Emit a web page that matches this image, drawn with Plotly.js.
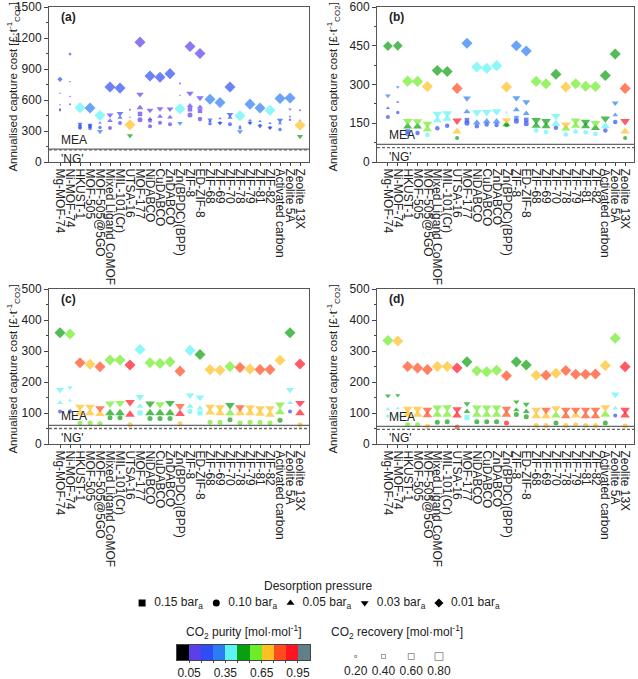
<!DOCTYPE html>
<html><head><meta charset="utf-8">
<script src="https://cdn.plot.ly/plotly-3.0.1.min.js"></script>
<style>html,body{margin:0;padding:0;background:#fff}#chart{width:638px;height:679px}</style>
</head><body><div id="chart"></div>
<script>
const materials = ['Mg-MOF-74','Ni-MOF-74','HKUST-1','MOF-505','MOF-505@5GO','Mixed Ligand CoMOF','MIL-101(Cr)','UTSA-16','MOF-177','NiDABCO','CuDABCO','ZnDABCO','Zn(BPDC)(BPP)','ZIF-8','ED-ZIF-8','ZIF-68','ZIF-69','ZIF-70','ZIF-78','ZIF-79','ZIF-81','ZIF-82','Activated carbon','Zeolite 5A','Zeolite 13X'];
const pressureLabels = ['0.15','0.10','0.05','0.03','0.01'];
const mea = [125, 68, 60, 57];
const ng = [118, 56, 50, 47];
const purityTickVals = [0.5, 3.5, 6.5, 9.5];
const purityTickText = ['0.05','0.35','0.65','0.95'];
const purityBins = [0,1,2,3,4,5,6,7,8,9,10];
const recoveryLegend = [0.20, 0.40, 0.60, 0.80];
const n = null;

// ---- panel (a)
const a_cost_015 = [500,n,340,345,n,n,n,n,465,400,n,n,n,510,495,n,n,n,n,n,n,n,n,n,n];
const a_pur_015  = [0.1,0.1,0.2,0.2,0.2,0.1,0.1,0.1,0.1,0.1,0.1,0.1,0.1,0.1,0.1,0.2,0.2,0.2,0.2,0.2,0.2,0.2,0.2,0.1,0.1];
const a_rec_015  = [0.2,0.2,0.35,0.35,0.3,0.3,0.3,0.2,0.45,0.35,0.3,0.3,0.2,0.45,0.45,0.3,0.3,0.3,0.3,0.3,0.3,0.3,0.3,0.2,0.2];
const a_cost_010 = [510,560,330,325,335,330,378,505,410,345,380,365,760,455,415,370,380,365,330,380,355,335,315,410,500];
const a_pur_010  = [0.1,0.1,0.2,0.2,0.2,0.1,0.1,0.1,0.1,0.1,0.1,0.1,0.1,0.1,0.1,0.2,0.2,0.2,0.2,0.2,0.2,0.2,0.2,0.1,0.1];
const a_rec_010  = [0.2,0.2,0.35,0.35,0.35,0.4,0.4,0.2,0.5,0.4,0.4,0.4,0.2,0.5,0.45,0.35,0.3,0.4,0.3,0.3,0.3,0.3,0.35,0.25,0.2];
const a_cost_005 = [555,635,360,350,380,400,430,432,525,415,440,432,645,545,530,395,420,430,345,405,395,375,375,440,405];
const a_pur_005  = [0.1,0.1,0.2,0.2,0.2,0.1,0.2,0.1,0.1,0.1,0.1,0.1,0.1,0.1,0.1,0.2,0.2,0.2,0.2,0.2,0.2,0.2,0.2,0.1,0.1];
const a_rec_005  = [0.2,0.2,0.35,0.35,0.3,0.5,0.45,0.2,0.6,0.45,0.5,0.5,0.2,0.55,0.55,0.35,0.3,0.45,0.25,0.3,0.3,0.3,0.35,0.25,0.2];
const a_cost_003 = [665,780,370,360,296,455,470,255,655,500,515,512,375,665,620,410,375,460,295,378,345,330,405,510,247];
const a_pur_003  = [0.1,0.1,0.2,0.2,0.3,0.1,0.2,0.5,0.1,0.1,0.1,0.1,0.3,0.1,0.1,0.2,0.2,0.2,0.3,0.2,0.2,0.2,0.2,0.1,0.5];
const a_rec_003  = [0.2,0.2,0.45,0.45,0.55,0.6,0.6,0.55,0.65,0.6,0.6,0.6,0.5,0.65,0.65,0.45,0.45,0.6,0.55,0.45,0.45,0.45,0.55,0.3,0.55];
const a_cost_001 = [800,1045,525,523,450,725,715,360,1160,833,820,855,515,1118,1050,607,575,725,448,560,522,500,615,620,355];
const a_pur_001  = [0.2,0.2,0.4,0.3,0.4,0.2,0.2,0.7,0.1,0.2,0.2,0.2,0.4,0.1,0.1,0.3,0.3,0.2,0.4,0.3,0.3,0.4,0.3,0.3,0.7];
const a_rec_001  = [0.4,0.25,0.85,0.85,0.85,0.85,0.85,0.85,0.85,0.85,0.85,0.85,0.85,0.85,0.85,0.85,0.85,0.85,0.85,0.85,0.85,0.85,0.85,0.85,0.85];

// ---- panel (b)
const b_cost_015 = [n,n,118,n,n,n,n,n,162,n,n,n,192,170,163,n,n,n,n,n,n,n,n,n,n];
const b_pur_015  = [0.2,0.2,0.2,0.2,0.2,0.2,0.2,0.2,0.2,0.2,0.2,0.2,0.4,0.3,0.2,0.2,0.2,0.2,0.2,0.2,0.2,0.2,0.2,0.2,0.2];
const b_rec_015  = [0.45,0.45,0.45,0.45,0.45,0.45,0.45,0.45,0.45,0.45,0.45,0.45,0.2,0.45,0.45,0.45,0.45,0.45,0.45,0.45,0.45,0.45,0.45,0.45,0.45];
const b_cost_010 = [174,192,108,112,105,131,140,93,150,138,145,143,143,158,148,122,116,133,106,118,115,108,122,155,93];
const b_pur_010  = [0.2,0.2,0.3,0.2,0.4,0.2,0.2,0.5,0.2,0.2,0.2,0.2,0.5,0.2,0.2,0.4,0.4,0.2,0.4,0.4,0.4,0.4,0.2,0.2,0.5];
const b_rec_010  = [0.4,0.35,0.45,0.45,0.45,0.45,0.45,0.4,0.5,0.45,0.45,0.45,0.45,0.5,0.5,0.45,0.45,0.45,0.45,0.45,0.45,0.45,0.45,0.45,0.4];
const b_cost_005 = [209,232,137,137,127,162,167,118,195,152,157,157,145,202,188,140,138,148,130,140,138,132,138,182,118];
const b_pur_005  = [0.2,0.2,0.5,0.5,0.6,0.4,0.4,0.7,0.3,0.3,0.3,0.3,0.5,0.3,0.3,0.5,0.5,0.4,0.6,0.6,0.5,0.5,0.4,0.3,0.7];
const b_rec_005  = [0.35,0.3,0.8,0.8,0.8,0.8,0.8,0.8,0.6,0.7,0.7,0.7,0.7,0.6,0.6,0.8,0.8,0.8,0.8,0.8,0.8,0.8,0.8,0.5,0.8];
const b_cost_003 = [256,290,158,157,148,186,188,160,247,192,193,196,162,248,232,162,158,178,145,160,155,150,168,228,158];
const b_pur_003  = [0.3,0.3,0.6,0.6,0.6,0.4,0.4,0.9,0.3,0.4,0.4,0.4,0.7,0.3,0.3,0.5,0.5,0.4,0.7,0.6,0.5,0.6,0.5,0.3,0.9];
const b_rec_003  = [0.5,0.35,0.85,0.85,0.85,0.85,0.85,0.85,0.7,0.85,0.85,0.85,0.8,0.7,0.7,0.85,0.85,0.85,0.85,0.85,0.85,0.85,0.85,0.6,0.85];
const b_cost_001 = [449,450,313,312,292,354,350,285,460,368,363,373,290,450,430,312,303,340,290,303,293,292,335,418,285];
const b_pur_001  = [0.5,0.5,0.6,0.6,0.7,0.5,0.5,0.8,0.3,0.4,0.4,0.4,0.7,0.3,0.3,0.6,0.6,0.5,0.7,0.6,0.6,0.6,0.5,0.5,0.8];
const b_rec_001  = [0.75,0.75,0.85,0.85,0.85,0.85,0.85,0.85,0.85,0.85,0.85,0.85,0.85,0.85,0.85,0.85,0.85,0.85,0.85,0.85,0.85,0.85,0.85,0.85,0.85];

// ---- panel (c)
const c_cost_015 = [n,n,n,n,n,n,n,n,100,n,n,n,n,n,100,n,n,n,n,n,n,n,n,n,n];
const c_pur_015  = [0.4,0.4,0.4,0.4,0.4,0.4,0.4,0.4,0.4,0.4,0.4,0.4,0.4,0.4,0.4,0.4,0.4,0.4,0.4,0.4,0.4,0.4,0.4,0.4,0.4];
const c_rec_015  = [0.5,0.5,0.5,0.5,0.5,0.5,0.5,0.5,0.5,0.5,0.5,0.5,0.5,0.5,0.5,0.5,0.5,0.5,0.5,0.5,0.5,0.5,0.5,0.5,0.5];
const c_cost_010 = [105,106,68,68,65,85,85,62,n,82,82,82,65,105,n,70,70,78,68,70,70,68,77,105,62];
const c_pur_010  = [0.2,0.2,0.6,0.6,0.6,0.5,0.5,0.7,0.4,0.5,0.5,0.5,0.7,0.4,0.4,0.6,0.6,0.5,0.6,0.6,0.6,0.6,0.5,0.2,0.7];
const c_rec_010  = [0.4,0.4,0.5,0.5,0.5,0.5,0.5,0.5,0.5,0.5,0.5,0.5,0.5,0.5,0.5,0.5,0.5,0.5,0.5,0.5,0.5,0.5,0.5,0.4,0.5];
const c_cost_005 = [133,140,100,100,97,100,100,95,122,100,100,100,97,122,115,102,100,100,100,100,98,95,103,133,100];
const c_pur_005  = [0.4,0.4,0.7,0.7,0.7,0.5,0.5,0.9,0.4,0.5,0.5,0.5,0.9,0.4,0.4,0.7,0.7,0.6,0.7,0.7,0.7,0.7,0.6,0.4,0.9];
const c_rec_005  = [0.5,0.35,0.85,0.85,0.85,0.85,0.85,0.85,0.6,0.85,0.85,0.85,0.85,0.6,0.6,0.85,0.85,0.85,0.85,0.85,0.85,0.85,0.85,0.5,0.85];
const c_cost_003 = [175,182,120,120,115,130,132,135,152,130,128,132,122,157,150,120,118,125,118,117,115,115,127,175,132];
const c_pur_003  = [0.4,0.4,0.7,0.7,0.8,0.6,0.6,0.9,0.4,0.5,0.6,0.5,0.8,0.4,0.4,0.7,0.7,0.5,0.8,0.7,0.7,0.7,0.6,0.4,0.9];
const c_rec_003  = [0.7,0.5,0.85,0.85,0.85,0.85,0.85,0.85,0.75,0.85,0.85,0.85,0.85,0.75,0.75,0.85,0.85,0.85,0.85,0.85,0.85,0.85,0.85,0.7,0.85];
const c_cost_001 = [359,355,262,257,249,271,271,255,305,262,260,265,235,302,289,240,238,250,247,242,240,240,270,359,258];
const c_pur_001  = [0.5,0.6,0.8,0.7,0.8,0.6,0.6,0.9,0.4,0.6,0.6,0.6,0.8,0.4,0.5,0.7,0.7,0.6,0.8,0.7,0.8,0.8,0.7,0.5,0.9];
const c_rec_001  = [0.85,0.85,0.85,0.85,0.85,0.85,0.85,0.85,0.85,0.85,0.85,0.85,0.85,0.85,0.85,0.85,0.85,0.85,0.85,0.85,0.85,0.85,0.85,0.85,0.85];

// ---- panel (d)
const d_cost_015 = [n,n,n,n,n,n,n,n,85,n,n,n,n,n,n,n,n,n,n,n,n,n,n,n,n];
const d_pur_015  = [0.4,0.4,0.4,0.4,0.4,0.4,0.4,0.4,0.4,0.4,0.4,0.4,0.4,0.4,0.4,0.4,0.4,0.4,0.4,0.4,0.4,0.4,0.4,0.4,0.4];
const d_rec_015  = [0.5,0.5,0.5,0.5,0.5,0.5,0.5,0.5,0.5,0.5,0.5,0.5,0.5,0.5,0.5,0.5,0.5,0.5,0.5,0.5,0.5,0.5,0.5,0.5,0.5];
const d_cost_010 = [90,90,62,62,57,70,72,55,n,72,72,72,68,95,88,60,60,68,60,62,60,60,68,92,58];
const d_pur_010  = [0.4,0.4,0.6,0.6,0.7,0.5,0.5,0.8,0.4,0.5,0.5,0.5,0.9,0.5,0.5,0.7,0.7,0.5,0.7,0.7,0.7,0.7,0.5,0.2,0.7];
const d_rec_010  = [0.35,0.35,0.5,0.5,0.5,0.5,0.5,0.5,0.5,0.5,0.5,0.5,0.5,0.5,0.5,0.5,0.5,0.5,0.5,0.5,0.5,0.5,0.5,0.4,0.5];
const d_cost_005 = [112,115,95,95,93,95,95,92,105,95,95,95,95,110,105,90,90,92,90,92,90,90,95,115,92];
const d_pur_005  = [0.4,0.4,0.7,0.7,0.8,0.6,0.6,0.9,0.5,0.6,0.6,0.6,0.8,0.5,0.5,0.7,0.7,0.6,0.8,0.7,0.8,0.8,0.6,0.4,0.9];
const d_rec_005  = [0.4,0.35,0.85,0.85,0.85,0.85,0.85,0.85,0.6,0.85,0.85,0.85,0.85,0.55,0.6,0.85,0.85,0.85,0.85,0.85,0.85,0.85,0.85,0.5,0.85];
const d_cost_003 = [156,157,113,113,110,117,118,112,130,117,117,117,113,136,128,110,110,115,110,110,110,110,118,160,110];
const d_pur_003  = [0.5,0.5,0.7,0.7,0.8,0.6,0.6,0.9,0.5,0.6,0.6,0.6,0.8,0.5,0.5,0.7,0.8,0.7,0.8,0.8,0.8,0.8,0.7,0.4,0.9];
const d_rec_003  = [0.5,0.45,0.85,0.85,0.85,0.85,0.85,0.85,0.6,0.85,0.85,0.85,0.85,0.55,0.6,0.85,0.85,0.85,0.85,0.85,0.85,0.85,0.85,0.75,0.85];
const d_cost_001 = [334,332,250,245,240,250,250,245,265,236,233,238,220,265,255,222,222,228,237,225,225,226,253,341,249];
const d_pur_001  = [0.6,0.7,0.8,0.8,0.8,0.7,0.7,0.9,0.5,0.6,0.6,0.6,0.8,0.5,0.5,0.7,0.8,0.7,0.8,0.8,0.8,0.8,0.7,0.6,0.9];
const d_rec_001  = [0.85,0.85,0.85,0.85,0.85,0.85,0.85,0.85,0.85,0.85,0.85,0.85,0.85,0.85,0.85,0.85,0.85,0.85,0.85,0.85,0.85,0.85,0.85,0.85,0.85];

// ---------- styling / build ----------
const binColors = ['#000000','#5b40ea','#2f4df5','#2c7cf4','#5ef4f4','#0a9f10','#6ded27','#ffbf22','#ff4b1e','#ff1423','#607f89'];
function purityColor(p){
  if (p == null) return '#000';
  if (p < 0.05) return binColors[0];
  if (p >= 0.95) return binColors[10];
  return binColors[Math.min(9, Math.floor((p - 0.05) / 0.1 + 1e-9) + 1)];
}
const SIZE = 10;
const symbols = ['square','circle','triangle-up','triangle-down','diamond'];
const panels = [
  {lab:'(a)', xa:'x',  ya:'y',  tx:13,  cost:[a_cost_015,a_cost_010,a_cost_005,a_cost_003,a_cost_001], pur:[a_pur_015,a_pur_010,a_pur_005,a_pur_003,a_pur_001], rec:[a_rec_015,a_rec_010,a_rec_005,a_rec_003,a_rec_001]},
  {lab:'(b)', xa:'x2', ya:'y2', tx:333, cost:[b_cost_015,b_cost_010,b_cost_005,b_cost_003,b_cost_001], pur:[b_pur_015,b_pur_010,b_pur_005,b_pur_003,b_pur_001], rec:[b_rec_015,b_rec_010,b_rec_005,b_rec_003,b_rec_001]},
  {lab:'(c)', xa:'x3', ya:'y3', tx:13,  cost:[c_cost_015,c_cost_010,c_cost_005,c_cost_003,c_cost_001], pur:[c_pur_015,c_pur_010,c_pur_005,c_pur_003,c_pur_001], rec:[c_rec_015,c_rec_010,c_rec_005,c_rec_003,c_rec_001]},
  {lab:'(d)', xa:'x4', ya:'y4', tx:333, cost:[d_cost_015,d_cost_010,d_cost_005,d_cost_003,d_cost_001], pur:[d_pur_015,d_pur_010,d_pur_005,d_pur_003,d_pur_001], rec:[d_rec_015,d_rec_010,d_rec_005,d_rec_003,d_rec_001]}
];

const traces = [];
panels.forEach(p => {
  for (let j = 0; j < 5; j++) {
    traces.push({
      type:'scatter', mode:'markers', x: materials, y: p.cost[j],
      xaxis: p.xa, yaxis: p.ya, showlegend:false, hoverinfo:'skip',
      marker:{symbol: symbols[j], color: p.pur[j].map(purityColor), size: p.rec[j].map(r => r * SIZE), line:{width:0}}
    });
  }
});
// desorption pressure key
const NB = '\u00a0';
traces.push({type:'scatter', mode:'markers+text', x: pressureLabels, y: pressureLabels.map(() => 0), xaxis:'x7', yaxis:'y7',
  text: pressureLabels.map(s => NB + NB + s + ' bar<sub>a</sub>'), textposition:'middle right', cliponaxis:false,
  textfont:{size:12, color:'#222'}, showlegend:false, hoverinfo:'skip',
  marker:{symbol: symbols, color:'#000', size:7}});
// purity colour bar
const cs = [];
binColors.forEach((c, k) => { cs.push([k/11, c]); cs.push([(k+1)/11, c]); });
traces.push({type:'heatmap', z:[purityBins], x: purityBins, y:[0], xaxis:'x5', yaxis:'y5',
  colorscale: cs, zmin:-0.5, zmax:10.5, showscale:false, hoverinfo:'skip'});
// recovery size key
traces.push({type:'scatter', mode:'markers', x: recoveryLegend, y: recoveryLegend.map(() => 0), xaxis:'x6', yaxis:'y6',
  showlegend:false, hoverinfo:'skip', cliponaxis:false,
  marker:{symbol:'square-open', color:'#707070', size: recoveryLegend.map(r => r * SIZE), line:{width:1}}});

const W = 638, H = 679;
const dx = (a, b) => [a / W, b / W];
const dy = (top, bot) => [1 - bot / H, 1 - top / H];
const font = {family:'"Liberation Sans", Arial, sans-serif', size:12, color:'#222'};
const yTitle = 'Annualised capture cost [£·t<sup>-1</sup><sub>CO2</sub>]';
function xAx(dom, anchor) {
  return {domain: dom, anchor: anchor, type:'category', categoryorder:'array', categoryarray: materials,
    tickmode:'array', tickvals: materials, ticktext: materials,
    range:[-1.1, 24.9], tickangle:90, ticks:'outside', ticklen:3, tickcolor:'#444',
    showline:true, mirror:true, linecolor:'#555', linewidth:1, showgrid:false, automargin:false,
    tickfont:{size:12, color:'#222'}, fixedrange:true};
}
function yAx(dom, anchor, max, dt) {
  return {domain: dom, anchor: anchor, range:[0, max], dtick: dt, ticks:'outside', ticklen:4, tickcolor:'#444',
    minor:{dtick: dt/2, ticks:'outside', ticklen:2, tickcolor:'#444'},
    showline:true, mirror:true, linecolor:'#555', linewidth:1, showgrid:false, zeroline:false, automargin:false,
    tickfont:{size:12, color:'#222'}};
}
const xL = dx(49, 309), xR = dx(377, 634);
const yT = dy(7, 162), yB = dy(289, 444);

const shapes = [], annotations = [];
panels.forEach((p, k) => {
  shapes.push({type:'line', xref: p.xa + ' domain', yref: p.ya, x0:0, x1:1, y0: mea[k], y1: mea[k], line:{color:'#666', width:1.3}});
  shapes.push({type:'line', xref: p.xa + ' domain', yref: p.ya, x0:0, x1:1, y0: ng[k], y1: ng[k], line:{color:'#666', width:1.3, dash:'3px,2px'}});
  annotations.push({xref: p.xa + ' domain', yref: p.ya, x:0.04, y: mea[k], xanchor:'left', yanchor:'bottom', text:'MEA', showarrow:false, font:{size:12, color:'#222'}, yshift:0});
  annotations.push({xref: p.xa + ' domain', yref: p.ya, x:0.04, y: ng[k], xanchor:'left', yanchor:'top', text:"'NG'", showarrow:false, font:{size:12, color:'#222'}, yshift:0});
  annotations.push({xref: p.xa + ' domain', yref: p.ya + ' domain', x:0.04, y:0.935, xanchor:'left', yanchor:'middle', text:'<b>' + p.lab + '</b>', showarrow:false, font:{size:12, color:'#222'}});
  annotations.push({xref:'paper', yref: p.ya + ' domain', x: p.tx / W, y:0.48, xanchor:'center', yanchor:'middle', textangle:-90, text: yTitle, showarrow:false, font:{size:11.5, color:'#222'}});
});
annotations.push({xref:'paper', yref:'paper', x:318/W, y:1-586/H, xanchor:'center', yanchor:'middle', text:'Desorption pressure', showarrow:false, font:{size:12, color:'#222'}});
annotations.push({xref:'paper', yref:'paper', x:243/W, y:1-632/H, xanchor:'center', yanchor:'middle', text:'CO<sub>2</sub> purity [mol·mol<sup>-1</sup>]', showarrow:false, font:{size:12, color:'#222'}});
annotations.push({xref:'paper', yref:'paper', x:397/W, y:1-632/H, xanchor:'center', yanchor:'middle', text:'CO<sub>2</sub> recovery [mol·mol<sup>-1</sup>]', showarrow:false, font:{size:12, color:'#222'}});

const layout = {
  width: W, height: H, margin:{l:0, r:0, t:0, b:0}, paper_bgcolor:'#fff', plot_bgcolor:'#fff', font: font,
  showlegend:false,
  xaxis: xAx(xL, 'y'), yaxis: yAx(yT, 'x', 1500, 300),
  xaxis2: xAx(xR, 'y2'), yaxis2: yAx(yT, 'x2', 600, 150),
  xaxis3: xAx(xL, 'y3'), yaxis3: yAx(yB, 'x3', 500, 100),
  xaxis4: xAx(xR, 'y4'), yaxis4: yAx(yB, 'x4', 500, 100),
  xaxis5: {domain: dx(177, 310), anchor:'y5', range:[-0.5, 10.5], tickvals: purityTickVals, ticktext: purityTickText,
    ticks:'outside', ticklen:2, tickcolor:'#444', minor:{tickvals:[0.5,1.5,2.5,3.5,4.5,5.5,6.5,7.5,8.5,9.5], ticks:'outside', ticklen:2, tickcolor:'#444'},
    showline:true, mirror:true, linecolor:'#444', showgrid:false, zeroline:false, tickfont:{size:12, color:'#222'}, automargin:false, fixedrange:true},
  yaxis5: {domain: dy(645, 660), anchor:'x5', range:[-0.5, 0.5], showticklabels:false, ticks:'', showline:true, mirror:true, linecolor:'#444', showgrid:false, zeroline:false, fixedrange:true},
  xaxis6: {domain: dx(341.8, 452.9), anchor:'y6', range:[0.1, 0.9], tickvals: recoveryLegend, ticktext: recoveryLegend.map(v => v.toFixed(2)),
    ticks:'', showline:false, showgrid:false, zeroline:false, tickfont:{size:12, color:'#222'}, automargin:false, fixedrange:true},
  yaxis6: {domain: dy(651, 662), anchor:'x6', range:[-1, 1], visible:false, fixedrange:true},
  xaxis7: {domain: dx(105, 476), anchor:'y7', type:'category', range:[-0.5, 4.5], visible:false, fixedrange:true},
  yaxis7: {domain: dy(597, 609), anchor:'x7', range:[-1, 1], visible:false, fixedrange:true},
  shapes: shapes, annotations: annotations
};
Plotly.newPlot('chart', traces, layout, {staticPlot:true, displayModeBar:false});
</script></body></html>
